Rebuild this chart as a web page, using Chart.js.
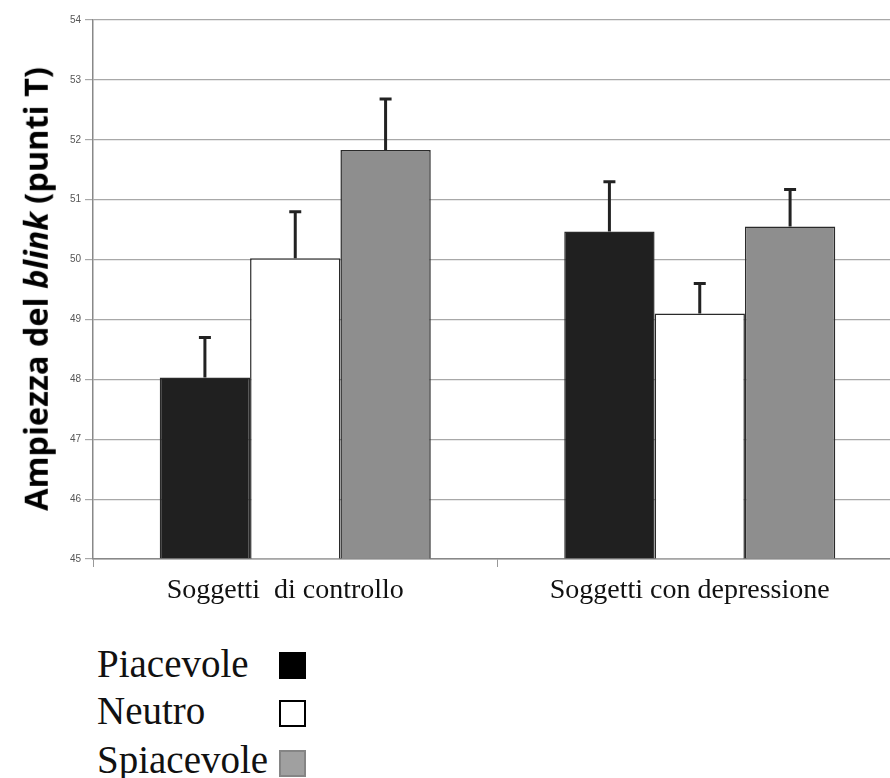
<!DOCTYPE html>
<html lang="it">
<head>
<meta charset="UTF-8">
<title>Ampiezza del blink</title>
<script src="https://cdn.jsdelivr.net/npm/chart.js"></script>
<style>
    html, body { margin: 0; padding: 0; background: #fff; overflow: hidden; width: 890px; height: 778px; }
    .wrap { position: relative; width: 890px; height: 778px; overflow: hidden; }
    #chart { position: absolute; left: 0; top: 0; }
    .ytitle {
        position: absolute; left: 36px; top: 289px;
        transform: translate(-50%, -50%) rotate(-90deg);
        white-space: nowrap; font-family: "Open Sans", Lato, sans-serif;
        font-weight: 700; font-size: 32.5px; line-height: 1; color: #000;
    }
    .lg { position: absolute; left: 97px; font-family: "Liberation Serif", "Times New Roman", serif; font-size: 39px; line-height: 39px; color: #111; white-space: nowrap; }
    .box { position: absolute; left: 279px; width: 27px; height: 27px; box-sizing: border-box; }
</style>
</head>
<body>
<div class="wrap">
    <canvas id="chart" width="902" height="620"></canvas>
    <div class="ytitle">Ampiezza del <i>blink</i> (punti T)</div>
    <div class="lg" style="top:644px">Piacevole</div>
    <div class="lg" style="top:691px">Neutro</div>
    <div class="lg" style="top:740px">Spiacevole</div>
    <div class="box" style="top:652px;background:#000;border:1px solid #000"></div>
    <div class="box" style="top:700px;background:#fff;border:2px solid #000"></div>
    <div class="box" style="top:750px;background:#a0a0a0;border:2px solid #858585"></div>
</div>

<script>
    // dati
    const categories = ['Soggetti  di controllo', 'Soggetti con depressione'];
    const piacevole = [48.03, 50.47];
    const piacevoleErr = [48.7, 51.3];
    const neutro = [50.02, 49.1];
    const neutroErr = [50.8, 49.6];
    const spiacevole = [51.83, 50.55];
    const spiacevoleErr = [52.68, 51.17];
    const yMin = 45, yMax = 54, yStep = 1;

    const errors = [piacevoleErr, neutroErr, spiacevoleErr];

    // barre di errore (solo verso l'alto)
    const errorBars = {
        id: 'errorBars',
        afterDatasetsDraw(chart) {
            const ctx = chart.ctx;
            const y = chart.scales.y;
            ctx.save();
            ctx.strokeStyle = '#222';
            ctx.lineWidth = 3;
            chart.data.datasets.forEach((ds, i) => {
                chart.getDatasetMeta(i).data.forEach((bar, j) => {
                    const top = y.getPixelForValue(errors[i][j]);
                    ctx.beginPath();
                    ctx.moveTo(bar.x, bar.y);
                    ctx.lineTo(bar.x, top);
                    ctx.moveTo(bar.x - 6, top);
                    ctx.lineTo(bar.x + 6, top);
                    ctx.stroke();
                });
            });
            ctx.restore();
        }
    };

    function makeDataset(label, data, bg) {
        return { label, data, backgroundColor: bg, borderColor: '#2a2a2a', borderWidth: 1.5, base: yMin, borderSkipped: 'bottom' };
    }

    new Chart(document.getElementById('chart'), {
        type: 'bar',
        data: {
            labels: categories,
            datasets: [
                makeDataset('Piacevole', piacevole, '#202020'),
                makeDataset('Neutro', neutro, '#ffffff'),
                makeDataset('Spiacevole', spiacevole, '#8e8e8e')
            ]
        },
        options: {
            responsive: false,
            animation: false,
            categoryPercentage: 0.67,
            barPercentage: 1.0,
            layout: { padding: { top: 20, right: 0, left: 0, bottom: 0 } },
            plugins: { legend: { display: false }, tooltip: { enabled: false } },
            scales: {
                x: {
                    offset: true,
                    grid: { offset: true, drawOnChartArea: false, drawTicks: true, tickLength: 8, color: '#999' },
                    border: { color: '#888', width: 1.5 },
                    ticks: { color: '#111', font: { family: '"Liberation Serif", "Times New Roman", serif', size: 28 }, padding: 7, labelOffset: -10 },
                    afterFit(scale) { scale.height = 61; }
                },
                y: {
                    min: yMin, max: yMax,
                    grid: { color: '#a8a8a8', lineWidth: 1.2, tickLength: 8 },
                    border: { color: '#888', width: 1.5 },
                    ticks: { stepSize: yStep, color: '#555', font: { family: 'Liberation Sans, sans-serif', size: 10 }, padding: 4 },
                    afterFit(scale) { scale.width = 93; }
                }
            }
        },
        plugins: [errorBars]
    });
</script>
</body>
</html>
